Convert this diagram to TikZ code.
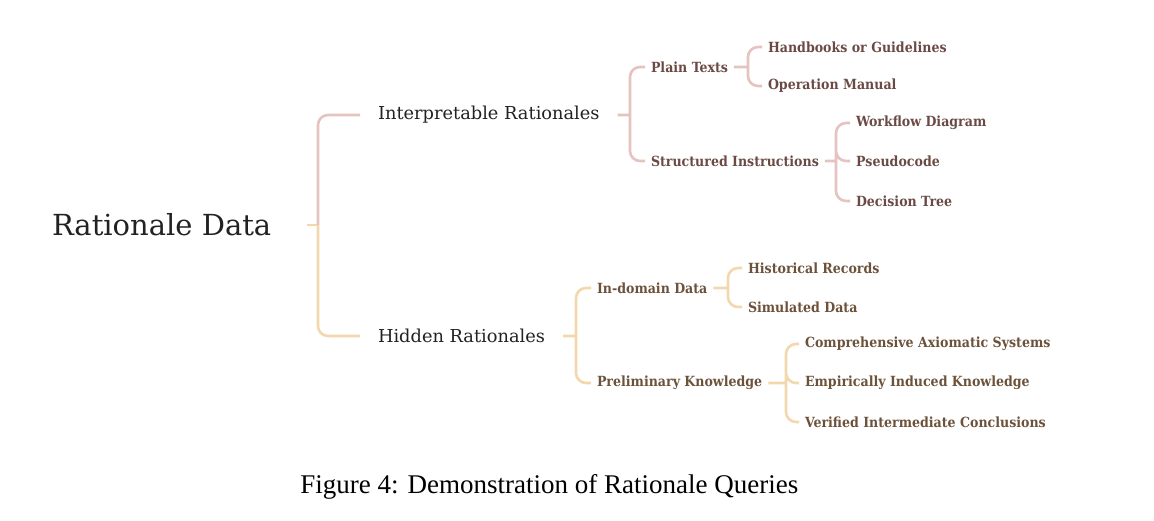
\documentclass[tikz,border=0pt]{standalone}
\usepackage{fontspec}
\setmainfont{DejaVu Serif}
\newfontfamily\leaffont{DejaVu Serif Condensed}
\newfontfamily\captionfont{Liberation Serif}

\definecolor{rosebranch}{HTML}{E5C3C1}
\definecolor{sandbranch}{HTML}{F3D7AD}
\definecolor{rosetext}{HTML}{6B4A45}
\definecolor{sandtext}{HTML}{6C523A}
\definecolor{headtext}{HTML}{222222}

\begin{document}
\begin{tikzpicture}[x=0.5pt, y=-0.5pt,
    every node/.style={anchor=west, inner sep=0pt},
    root/.style={font=\fontsize{14.5}{17}\selectfont, text=headtext, outer xsep=18pt},
    mid/.style={font=\fontsize{8.9}{11}\selectfont, text=headtext, outer xsep=9pt},
    leaf/.style={font=\leaffont\bfseries\fontsize{7}{8}\selectfont, outer xsep=3pt},
    rose/.style={draw=rosebranch, line width=1.3pt, rounded corners=5pt},
    sand/.style={draw=sandbranch, line width=1.3pt, rounded corners=5pt},
]
    \useasboundingbox (0,0) rectangle (1154,520);

    % tree
    \node [root] (rd) at (16,225) {Rationale Data};
    \node [mid] (ir) at (360,115) {Interpretable Rationales};
    \node [mid] (hr) at (360,336) {Hidden Rationales};

    \node [leaf, text=rosetext] (pt) at (645,67) {Plain Texts};
    \node [leaf, text=rosetext] (si) at (645,161) {Structured Instructions};
    \node [leaf, text=rosetext] (hg) at (762,47) {Handbooks or Guidelines};
    \node [leaf, text=rosetext] (om) at (762,86) {Operation Manual};
    \node [leaf, text=rosetext] (wd) at (850,123) {Workflow Diagram};
    \node [leaf, text=rosetext] (pc) at (850,161) {Pseudocode};
    \node [leaf, text=rosetext] (dt) at (850,201) {Decision Tree};

    \node [leaf, text=sandtext] (id) at (591,288) {In-domain Data};
    \node [leaf, text=sandtext] (pk) at (591,383) {Preliminary Knowledge};
    \node [leaf, text=sandtext] (hrec) at (742,268) {Historical Records};
    \node [leaf, text=sandtext] (sd) at (742,307) {Simulated Data};
    \node [leaf, text=sandtext] (cas) at (799,344) {Comprehensive Axiomatic Systems};
    \node [leaf, text=sandtext] (eik) at (799,383) {Empirically Induced Knowledge};
    \node [leaf, text=sandtext] (vic) at (799,422) {Verified Intermediate Conclusions};

    % forks
    \coordinate (rdfork) at (318,225);
    \coordinate (irfork) at (630,115);
    \coordinate (ptfork) at (748,67);
    \coordinate (sifork) at (836,161);
    \coordinate (hrfork) at (576,336);
    \coordinate (idfork) at (728,288);
    \coordinate (pkfork) at (786,383);

    \draw [sand] (rd.east) -- (rdfork);
    \draw [rose] (rdfork) |- (ir.west);
    \draw [sand] (rdfork) |- (hr.west);

    \draw [rose]
        (ir.east) -- (irfork)
        (irfork) |- (pt.west)
        (irfork) |- (si.west)
        (pt.east) -- (ptfork)
        (ptfork) |- (hg.west)
        (ptfork) |- (om.west)
        (si.east) -- (sifork)
        (sifork) |- (wd.west)
        (sifork) |- (pc.west)
        (sifork) |- (dt.west)
        ;

    \draw [sand]
        (hr.east) -- (hrfork)
        (hrfork) |- (id.west)
        (hrfork) |- (pk.west)
        (id.east) -- (idfork)
        (idfork) |- (hrec.west)
        (idfork) |- (sd.west)
        (pk.east) -- (pkfork)
        (pkfork) |- (cas.west)
        (pkfork) |- (eik.west)
        (pkfork) |- (vic.west)
        ;

    \node [font=\captionfont\fontsize{13.5}{16}\selectfont] (cap) at (300,487)
        {Figure 4: Demonstration of Rationale Queries};
\end{tikzpicture}
\end{document}
